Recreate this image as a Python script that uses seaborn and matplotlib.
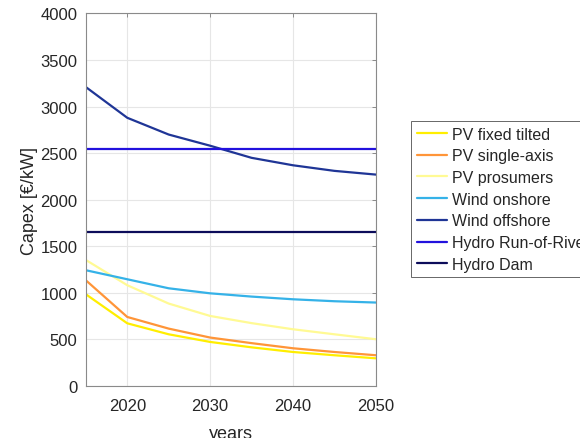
import numpy as np
import pandas as pd
import matplotlib
matplotlib.use("Agg")
import matplotlib.pyplot as plt
import seaborn as sns

years = [2015, 2020, 2025, 2030, 2035, 2040, 2045, 2050]
pv_fixed = [985, 673, 555, 473, 415, 365, 330, 297]
pv_single = [1135, 741, 616, 520, 460, 405, 365, 330]
pv_prosumers = [1353, 1082, 885, 752, 675, 609, 555, 502]
wind_onshore = [1243, 1146, 1049, 995, 960, 931, 910, 896]
wind_offshore = [3210, 2880, 2700, 2580, 2450, 2370, 2310, 2270]
hydro_ror = [2550] * 8
hydro_dam = [1650] * 8

names = ["PV fixed tilted", "PV single-axis", "PV prosumers", "Wind onshore",
         "Wind offshore", "Hydro Run-of-River", "Hydro Dam"]
series = [pv_fixed, pv_single, pv_prosumers, wind_onshore, wind_offshore, hydro_ror, hydro_dam]
colors = ["#FFEE00", "#FF9538", "#FFFA94", "#35B2E8", "#1F3596", "#2211DD", "#0C0C5A"]

rows = []
for n, s in zip(names, series):
    for y, v in zip(years, s):
        rows.append({"year": y, "capex": v, "tech": n})
df = pd.DataFrame(rows)

sns.set_style("white")
plt.rcParams['font.family'] = ['Liberation Sans', 'DejaVu Sans']

fig = plt.figure(figsize=(5.8, 4.39), dpi=100)
ax = fig.add_axes([0.148, 0.1185, 0.500, 0.8485])

sns.lineplot(data=df, x="year", y="capex", hue="tech", hue_order=names,
             palette=colors, linewidth=1.6, ax=ax, legend=False)

ax.set_xlim(2015, 2050)
ax.set_ylim(0, 4000)
ax.set_xticks([2020, 2030, 2040, 2050])
ax.set_yticks(np.arange(0, 4001, 500))
ax.grid(True, color="#E6E6E6", linewidth=0.8)
for sp in ax.spines.values():
    sp.set_visible(True)
    sp.set_color("#8A8A8A")
    sp.set_linewidth(0.8)
ax.tick_params(axis="both", direction="in", top=True, right=True, length=3, width=0.7,
               labelsize=12, colors="#8A8A8A", labelcolor="#262626")
ax.tick_params(axis="x", pad=9)
ax.tick_params(axis="y", pad=6)
ax.set_xlabel("years", fontsize=13, color="#262626", labelpad=8)
ax.set_ylabel("Capex [€/kW]", fontsize=13, color="#262626", labelpad=1.5)

handles = [plt.Line2D([0], [0], color=c, lw=1.6) for c in colors]
leg = fig.legend(handles, names, loc="upper left",
                 bbox_to_anchor=(411 / 580, 1 - 122 / 439),
                 bbox_transform=fig.transFigure, fontsize=11.5,
                 frameon=True, fancybox=False, handlelength=1.9,
                 handletextpad=0.3, labelspacing=0.42, borderpad=0.35,
                 borderaxespad=0)
leg.get_frame().set_edgecolor("#404040")
leg.get_frame().set_linewidth(0.7)

fig.savefig("out.png", dpi=100)
